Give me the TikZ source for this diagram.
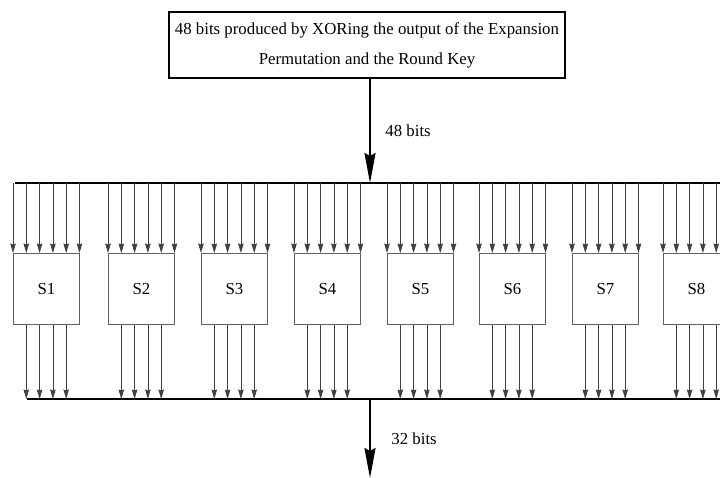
\documentclass[tikz,border=0pt]{standalone}
\usepackage{fontspec}
\setmainfont{Liberation Serif}
\usetikzlibrary{arrows.meta,calc}
\tikzset{
  sbox/.style={draw=gray!75!black,line width=0.8pt,minimum width=66pt,minimum height=71pt,anchor=north west,inner sep=0pt},
  wire/.style={draw=black!75,line width=0.8pt,-{Stealth[length=9.5pt,width=5.5pt,inset=1pt]}},
  bus/.style={line width=2.5pt},
  mainarrow/.style={line width=2.2pt,-{Stealth[length=30pt,width=11pt,inset=3pt]}}
}
\begin{document}
\begin{tikzpicture}[x=1pt,y=-1pt,font=\fontsize{16.8}{30}\selectfont]
\useasboundingbox (0,0) rectangle (720,477);
\clip (0,0) rectangle (720,477);
\node[draw,line width=2.2pt,minimum width=396pt,minimum height=66pt,align=center,inner sep=0pt](xorbox) at (367,45)
  {48 bits produced by XORing the output of the Expansion\\Permutation and the Round Key};
\coordinate (topL) at (15,183);
\coordinate (topR) at (720,183);
\coordinate (topin) at (370,183);
\coordinate (botL) at (27,399);
\coordinate (botR) at (720,399);
\coordinate (botout) at (370,399);
\coordinate (botend) at (370,478);
\draw[bus](topL)--(topR);
\draw[bus](botL)--(botR);
\draw[mainarrow](xorbox.south -| topin)--(topin)node[pos=0.5,right=11pt]{48 bits};
\draw[mainarrow](botout)--(botend)node[pos=0.5,right=17pt]{32 bits};
\foreach \i/\xl in {1/13,2/108,3/201,4/294,5/387,6/479,7/572,8/663}{
  \node[sbox](s\i) at (\xl,253){S\i};
  \foreach \k in {0,...,5}{
    \coordinate (s\i-in\k) at ($(s\i.north west)+(\k*13.3,0)$);
    \draw[wire](s\i-in\k |- topL)--(s\i-in\k);
  }
  \foreach \k in {1,...,4}{
    \coordinate (s\i-out\k) at ($(s\i.south west)+(\k*13.3,0)$);
    \draw[wire](s\i-out\k)--(s\i-out\k |- botL);
  }
}
\end{tikzpicture}
\end{document}
